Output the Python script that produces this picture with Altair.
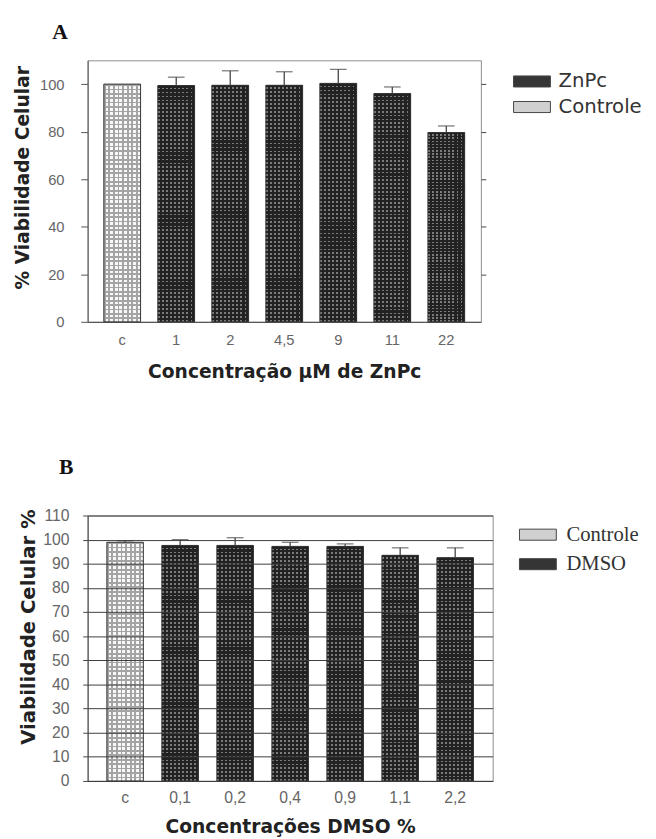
import altair as alt
import pandas as pd

# ---------------- data ----------------
a_categories = ["c", "1", "2", "4,5", "9", "11", "22"]
a_series = ["Controle", "ZnPc", "ZnPc", "ZnPc", "ZnPc", "ZnPc", "ZnPc"]
a_values = [100.0, 99.4, 99.5, 99.5, 100.3, 96.0, 79.6]
a_upper = [100.0, 102.9, 105.6, 105.2, 106.2, 98.8, 82.4]

b_categories = ["c", "0,1", "0,2", "0,4", "0,9", "1,1", "2,2"]
b_series = ["Controle", "DMSO", "DMSO", "DMSO", "DMSO", "DMSO", "DMSO"]
b_values = [98.9, 97.6, 97.6, 97.2, 97.2, 93.5, 92.5]
b_upper = [99.5, 100.0, 100.8, 98.9, 98.2, 96.6, 96.6]

a_ticks = [0, 20, 40, 60, 80, 100]
b_ticks = [0, 10, 20, 30, 40, 50, 60, 70, 80, 90, 100, 110]

df_a = pd.DataFrame({"cat": a_categories, "series": a_series, "value": a_values, "upper": a_upper})
df_b = pd.DataFrame({"cat": b_categories, "series": b_series, "value": b_values, "upper": b_upper})

TITLE_FONT = "DejaVu Sans"
SANS = "Liberation Sans"
NARROW = "Liberation Sans Narrow, Liberation Sans, sans-serif"


def stripes(n, on_color, off_color, on_frac, along_x):
    stops = []
    for i in range(n):
        s = i / n
        m = (i + on_frac) / n
        e = (i + 1) / n
        stops += [
            alt.GradientStop(offset=s, color=on_color),
            alt.GradientStop(offset=m, color=on_color),
            alt.GradientStop(offset=m, color=off_color),
            alt.GradientStop(offset=min(e, 1.0), color=off_color),
        ]
    if along_x:
        return alt.LinearGradient(gradient="linear", stops=stops, x1=0, x2=1, y1=0, y2=0)
    return alt.LinearGradient(gradient="linear", stops=stops, x1=0, x2=0, y1=0, y2=1)


def panel(df, cats, dark_name, domain, xtitle, pin, pout, width, height,
          left_axis, legend, label, title_dx, title_offset, xaxis_extra, right_ticks, hstripes):
    yscale = alt.Scale(domain=[0, 110], nice=False, zero=True)
    xenc = alt.X(
        "cat:N", sort=cats,
        scale=alt.Scale(paddingInner=pin, paddingOuter=pout),
        axis=alt.Axis(title=xtitle, labelAngle=0, ticks=False, domainColor="#444",
                      labelColor="#666", titleFont=TITLE_FONT, titleFontSize=19,
                      titleFontWeight="bold", titleColor="#222", **xaxis_extra),
    )
    base = alt.Chart(df).encode(x=xenc)
    bars = base.mark_bar().encode(
        y=alt.Y("value:Q", scale=yscale, axis=left_axis),
        color=alt.Color("series:N", scale=alt.Scale(domain=domain, range=(
            ["#353535", "#d0d0d0"] if domain[0] == dark_name else ["#d0d0d0", "#353535"])),
            legend=legend),
    )
    ynone = alt.Y("value:Q", scale=yscale, axis=None)
    dark_v = base.transform_filter(alt.datum.series == dark_name).mark_bar(
        fill=stripes(9, "#7c7c7c", "#222222", 0.45, True)).encode(y=ynone)
    dark_h = base.transform_filter(alt.datum.series == dark_name).mark_bar(
        fill=stripes(hstripes, "rgba(34,34,34,1)", "rgba(34,34,34,0)", 0.55, False)).encode(y=ynone)
    ctl_v = base.transform_filter(alt.datum.series == "Controle").mark_bar(
        fill=stripes(8, "#a4a4a4", "#f8f8f8", 0.4, True)).encode(y=ynone)
    ctl_h = base.transform_filter(alt.datum.series == "Controle").mark_bar(
        fill=stripes(hstripes - 6, "rgba(164,164,164,1)", "rgba(164,164,164,0)", 0.4, False)).encode(y=ynone)
    outline = base.mark_bar(fillOpacity=0, stroke="#333", strokeWidth=1).encode(y=ynone)
    has_err = base.transform_filter(alt.datum.upper > alt.datum.value)
    err = has_err.mark_rule(color="#444", strokeWidth=1.3).encode(y=ynone, y2="upper:Q")
    caps = has_err.mark_tick(color="#444", thickness=1.3, size=17).encode(
        y=alt.Y("upper:Q", scale=yscale, axis=None))
    layers = [bars, dark_v, dark_h, ctl_v, ctl_h, outline, err, caps]
    if right_ticks:
        right = base.mark_tick(opacity=0).encode(
            y=alt.Y("value:Q", scale=yscale,
                    axis=alt.Axis(orient="right", values=right_ticks, labels=False, domain=False,
                                  ticks=True, tickSize=5, tickColor="#444", grid=False, title=None)))
        layers.append(right)
    return alt.layer(*layers).resolve_axis(y="independent").properties(
        width=width, height=height,
        title=alt.TitleParams(text=label, anchor="start", frame="group", dx=title_dx,
                              font="Liberation Serif", fontSize=22, fontWeight="bold",
                              color="#111", offset=title_offset, baseline="alphabetic"),
    )


axis_a = alt.Axis(title="% Viabilidade Celular", values=a_ticks, tickSize=7, tickColor="#555",
                  domainColor="#555", labelFont=SANS, labelFontSize=15, labelColor="#666",
                  labelPadding=17, titleFont=TITLE_FONT, titleFontSize=19, titleFontWeight="bold",
                  titleColor="#222", titlePadding=7, titleY=119, grid=False)
legend_a = alt.Legend(orient="none", legendX=439, legendY=8.5, title=None,
                      symbolType="M-1.5,-0.45H1.5V0.45H-1.5Z", symbolSize=625,
                      symbolStrokeColor="#444", symbolStrokeWidth=1, symbolOpacity=1,
                      labelFont="DejaVu Sans", labelFontSize=20, labelColor="#333",
                      labelOffset=14, rowPadding=3, padding=0)

axis_b = alt.Axis(title="Viabilidade Celular %", values=b_ticks, tickSize=5, tickColor="#444",
                  domainColor="#444", labelFont=NARROW, labelFontSize=16, labelColor="#666",
                  labelPadding=14, titleFont=TITLE_FONT, titleFontSize=20, titleFontWeight="bold",
                  titleColor="#222", titlePadding=4, titleY=113, grid=True, gridColor="#3c3c3c",
                  gridOpacity=1, gridWidth=1, zindex=1)
legend_b = alt.Legend(orient="none", legendX=445, legendY=6.5, title=None,
                      symbolType="M-1.5,-0.45H1.5V0.45H-1.5Z", symbolSize=625,
                      symbolStrokeColor="#444", symbolStrokeWidth=1, symbolOpacity=1,
                      labelFont="Liberation Serif", labelFontSize=21, labelColor="#333",
                      labelOffset=16, rowPadding=7, padding=0)

chart_a = panel(df_a, a_categories, "ZnPc", ["ZnPc", "Controle"],
                "Concentração µM de ZnPc", 0.32, 0.30, 400, 266,
                axis_a, legend_a, "A", -36, 0,
                dict(labelFont=SANS, labelFontSize=15, labelPadding=11, titlePadding=16),
                [20, 40, 60, 80, 100], 60)
chart_b = panel(df_b, b_categories, "DMSO", ["Controle", "DMSO"],
                "Concentrações DMSO %", 0.337, 0.35, 412, 270,
                axis_b, legend_b, "B", -29, 12,
                dict(labelFont=NARROW, labelFontSize=16, labelPadding=9, titlePadding=12),
                None, 60)

chart = alt.concat(chart_a, chart_b, columns=1, spacing=74, align="none").resolve_scale(
    color="independent").configure_view(stroke="#8c8c8c", strokeWidth=1)

chart.save("out.html", embed_options={"renderer": "svg", "actions": False})
